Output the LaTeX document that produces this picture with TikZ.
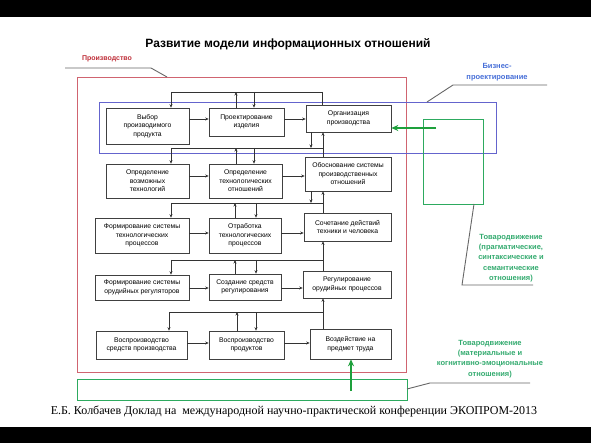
\documentclass[tikz,border=0pt]{standalone}
\usepackage{fontspec}
\setmainfont{Liberation Sans}
\newfontfamily\footserif{Liberation Serif}
\usetikzlibrary{arrows.meta}
\definecolor{frred}{RGB}{208,100,112}
\definecolor{frblue}{RGB}{100,100,205}
\definecolor{frgreen}{RGB}{45,170,95}
\definecolor{argreen}{RGB}{30,160,60}
\definecolor{txred}{RGB}{190,45,55}
\definecolor{txblue}{RGB}{70,110,215}
\definecolor{txgreen}{RGB}{50,170,110}
\tikzset{
  box/.style={draw=black!75, line width=0.6pt, fill=white, align=center, inner sep=1pt,
              font=\fontsize{6.8}{8.5}\selectfont},
  arr/.style={-{Stealth[length=3.5pt,width=3pt]}, line width=0.5pt, draw=black!80},
  bus/.style={line width=0.5pt, draw=black!80},
  garr/.style={-{Stealth[length=7pt,width=6pt]}, line width=1.3pt, draw=argreen},
  leader/.style={line width=0.9pt, draw=black!60},
  lbl/.style={align=center, inner sep=0pt, font=\fontsize{7.5}{10.3}\selectfont\bfseries}
}
\begin{document}
\begin{tikzpicture}[x=1pt,y=-1pt]
\useasboundingbox (0,0) rectangle (591,443);
\fill[black] (0,0) rectangle (591,17);
\fill[black] (0,427) rectangle (591,443);

% title
\node[inner sep=0pt, font=\fontsize{12}{14}\selectfont\bfseries] (title) at (288,44) {Развитие модели информационных отношений};

% frames
\draw[frred, line width=0.8pt] (77,77) rectangle (406,372);
\draw[frblue, line width=0.8pt] (99,102) rectangle (496,153);
\draw[frgreen, line width=0.9pt] (423,119) rectangle (483,204);
\draw[frgreen, line width=0.9pt] (77,379) rectangle (407,400);

% boxes
\node[box, minimum width=83pt, minimum height=36pt] (A) at (147.5,126) {Выбор\\производимого\\продукта};
\node[box, minimum width=75pt, minimum height=28pt] (B) at (246.5,122) {Проектирование\\изделия};
\node[box, minimum width=85pt, minimum height=27pt] (C) at (348.5,118.5) {Организация\\производства};
\node[box, minimum width=83pt, minimum height=34pt] (D) at (147.5,181) {Определение\\возможных\\технологий};
\node[box, minimum width=73pt, minimum height=34pt] (E) at (245.5,181) {Определение\\технологических\\отношений};
\node[box, minimum width=86pt, minimum height=34pt] (F) at (348,174) {Обоснование системы\\производственных\\отношений};
\node[box, minimum width=94pt, minimum height=35pt] (G) at (142,235.5) {Формирование системы\\технологических\\процессов};
\node[box, minimum width=72pt, minimum height=35pt] (H) at (245,235.5) {Отработка\\технологических\\процессов};
\node[box, minimum width=87pt, minimum height=28pt] (I) at (347.5,227) {Сочетание действий\\техники и человека};
\node[box, minimum width=94pt, minimum height=25pt] (J) at (142,287.5) {Формирование системы\\орудийных регуляторов};
\node[box, minimum width=72pt, minimum height=26pt] (K) at (245,287) {Создание средств\\регулирования};
\node[box, minimum width=88pt, minimum height=27pt] (L) at (347,284.5) {Регулирование\\орудийных процессов};
\node[box, minimum width=91pt, minimum height=28pt] (M) at (141.5,345) {Воспроизводство\\средств производства};
\node[box, minimum width=75pt, minimum height=28pt] (N) at (246.5,345) {Воспроизводство\\продуктов};
\node[box, minimum width=81pt, minimum height=30pt] (O) at (350.5,344) {Воздействие на\\предмет труда};

% row arrows
\draw[arr] (A.east |- 0,119) -- (B.west |- 0,119);
\draw[arr] (B.east |- 0,119) -- (C.west |- 0,119);
\draw[arr] (D.east |- 0,176) -- (E.west |- 0,176);
\draw[arr] (E.east |- 0,176) -- (F.west |- 0,176);
\draw[arr] (G.east |- 0,233) -- (H.west |- 0,233);
\draw[arr] (H.east |- 0,233) -- (I.west |- 0,233);
\draw[arr] (J.east |- 0,288) -- (K.west |- 0,288);
\draw[arr] (K.east |- 0,288) -- (L.west |- 0,288);
\draw[arr] (M.east |- 0,343) -- (N.west |- 0,343);
\draw[arr] (N.east |- 0,343) -- (O.west |- 0,343);

% bus 0
\draw[bus] (171,92) -- (322,92);
\draw[arr] (171,92) -- (A.north -| 171,0);
\draw[arr] (B.north -| 236,0) -- (236,92);
\draw[arr] (254,92) -- (B.north -| 254,0);
\draw[bus] (322,92) -- (C.north -| 322,0);

% bus 1
\draw[bus] (171,148) -- (323,148);
\draw[arr] (171,148) -- (D.north -| 171,0);
\draw[arr] (E.north -| 236,0) -- (236,148);
\draw[arr] (254,148) -- (E.north -| 254,0);
\draw[arr] (C.south -| 311,0) -- (311,148);
\draw[arr] (F.north -| 323,0) -- (C.south -| 323,0);

% bus 2
\draw[bus] (171,203) -- (323,203);
\draw[arr] (171,203) -- (G.north -| 171,0);
\draw[arr] (H.north -| 235,0) -- (235,203);
\draw[arr] (256,203) -- (H.north -| 256,0);
\draw[arr] (F.south -| 311,0) -- (311,203);
\draw[arr] (I.north -| 323,0) -- (F.south -| 323,0);

% bus 3
\draw[bus] (171,260) -- (323,260);
\draw[arr] (171,260) -- (J.north -| 171,0);
\draw[arr] (K.north -| 235,0) -- (235,260);
\draw[arr] (256,260) -- (K.north -| 256,0);
\draw[arr] (L.north -| 323,0) -- (I.south -| 323,0);

% bus 4
\draw[bus] (169,312) -- (323,312);
\draw[arr] (169,312) -- (M.north -| 169,0);
\draw[arr] (N.north -| 237,0) -- (237,312);
\draw[arr] (256,312) -- (N.north -| 256,0);
\draw[arr] (O.north -| 323,0) -- (L.south -| 323,0);

% green arrows
\coordinate (gs1) at (436,128);
\coordinate (gs2) at (351,391);
\draw[garr] (gs1) -- (C.east |- gs1);
\draw[garr] (gs2) -- (O.south -| gs2);

% leaders
\draw[leader] (65,68) -- (151,68) -- (167,77);
\draw[leader] (427,102) -- (453,85) -- (547,85);
\draw[leader] (474,204) -- (462,285) -- (533,285);
\draw[leader] (407,389) -- (430,383) -- (530,383);

% labels
\node[lbl, text=txred, font=\fontsize{7}{9}\selectfont\bfseries] (prod) at (107,59) {Производство};
\node[lbl, text=txblue, font=\fontsize{7.5}{11.5}\selectfont\bfseries] (biz) at (497,72) {Бизнес-\\проектирование};
\node[lbl, text=txgreen] (tov1) at (511,258) {Товародвижение\\(прагматические,\\синтаксические и\\семантические\\отношения)};
\node[lbl, text=txgreen] (tov2) at (490,359) {Товародвижение\\(материальные и\\когнитивно-эмоциональные\\отношения)};

% footer
\node[inner sep=0pt, font=\footserif\fontsize{12}{14}\selectfont] (foot) at (294,411) {Е.Б. Колбачев Доклад на\ \ международной научно-практической конференции ЭКОПРОМ-2013};
\end{tikzpicture}
\end{document}
